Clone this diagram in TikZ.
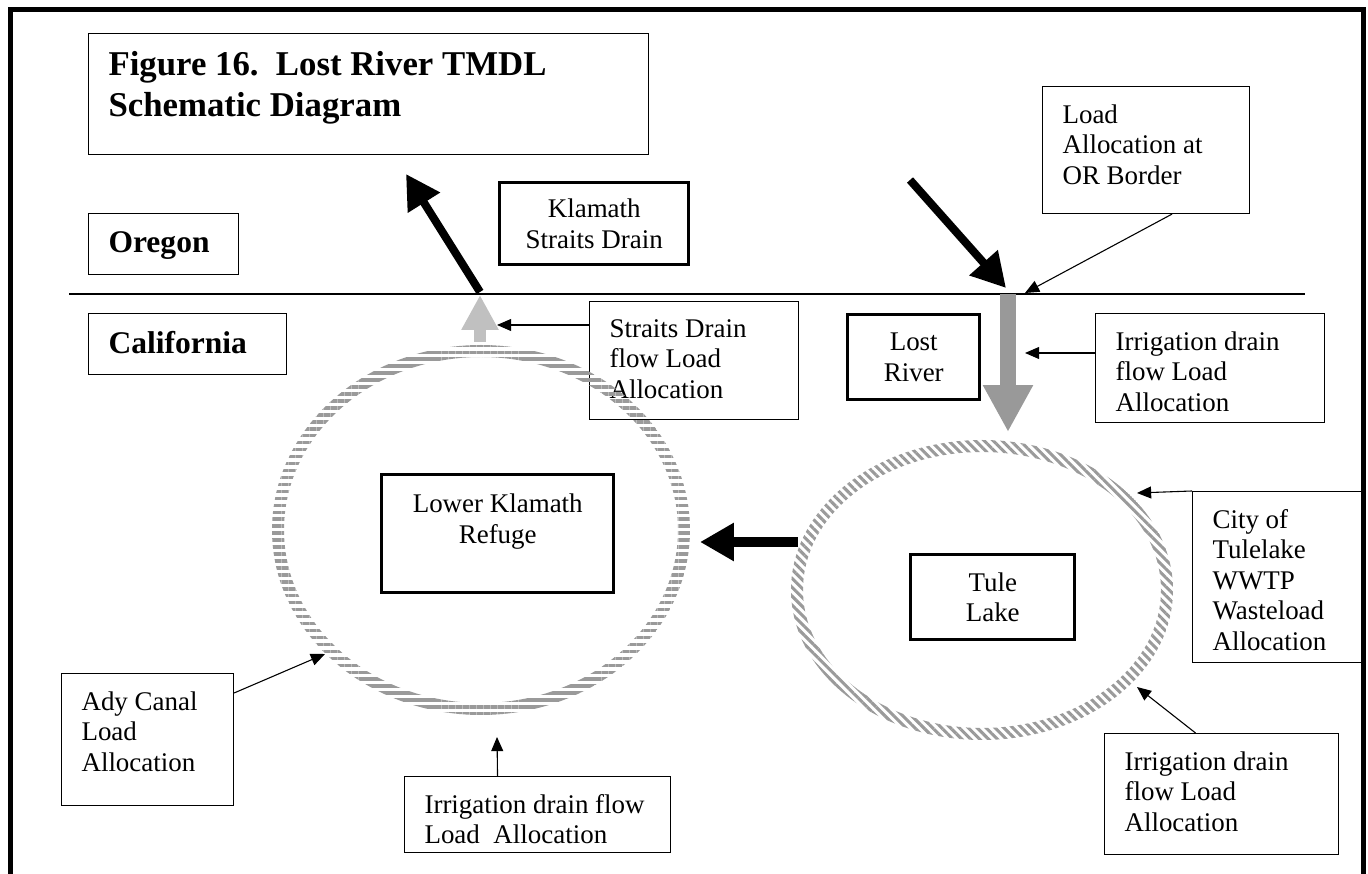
\documentclass[tikz,border=0pt]{standalone}
\usepackage{fontspec}
\setmainfont{Liberation Serif}
\usetikzlibrary{arrows.meta,patterns.meta}
\newlength\pxu
\setlength\pxu{0.46pt}
\newcommand{\tbox}[3]{\parbox[c][#2\pxu][t]{#1\pxu}{\raggedright #3}}
\definecolor{ringgray}{HTML}{9A9A9A}
\definecolor{drainarrow}{HTML}{C0C0C0}
\definecolor{riverarrow}{HTML}{999999}

\begin{document}
\begin{tikzpicture}[x=0.46pt, y=-0.46pt,
    every node/.style={font=\fontsize{12.4}{14}\selectfont},
    lbox/.style={draw, line width=0.5pt, anchor=north west, inner xsep=20\pxu, inner ysep=18\pxu},
    headbox/.style={lbox, font=\fontsize{16}{18.9}\selectfont\bfseries},
    statebox/.style={lbox, font=\fontsize{14.5}{17}\selectfont\bfseries},
    namebox/.style={draw, line width=1.6pt, align=center, anchor=north west, inner sep=0pt},
    pointer/.style={-{Triangle[length=6.5pt,width=5.5pt]}, line width=0.5pt},
    flow/.style={-{Triangle[length=15.6pt,width=16.6pt]}, line width=3.7pt}]
    \useasboundingbox (0,0) rectangle (1368,874);
    \draw[line width=2.3pt] (10,874) -- (10,10) -- (1363,10) -- (1363,874);
    \draw[line width=0.7pt] (69,294) -- (1305,294);

    \node[headbox] (title) at (88,33) {\tbox{520}{85}{Figure 16.\ \ Lost River TMDL\\Schematic Diagram}};
    \node[statebox] (oregon) at (88,213) {\tbox{110}{25}{Oregon}};
    \node[statebox] (california) at (88,313) {\tbox{158}{25}{California}};

    \node[namebox, minimum width=189\pxu, minimum height=82\pxu] (ksd) at (498,181) {Klamath\\Straits Drain};
    \node[namebox, minimum width=132\pxu, minimum height=85\pxu] (lostriver) at (846,313) {Lost\\River};
    \node[namebox, minimum width=232\pxu, minimum height=118\pxu] (lkr) at (380,473) {Lower Klamath\\Refuge\\\mbox{}};
    \node[namebox, minimum width=164\pxu, minimum height=85\pxu] (tule) at (909,553) {Tule\\Lake};

    \node[lbox] (ordrop) at (1042,86) {\tbox{167}{91}{Load\\Allocation at\\OR Border}};
    \node[lbox] (sdflow) at (589,301) {\tbox{169}{82}{Straits Drain\\flow Load\\Allocation}};
    \node[lbox] (lrflow) at (1095,313) {\tbox{189}{73}{Irrigation drain\\flow Load\\Allocation}};
    \node[lbox] (wwtp) at (1192,491) {\tbox{129}{135}{City of\\Tulelake\\WWTP\\Wasteload\\Allocation}};
    \node[lbox] (tlflow) at (1104,733) {\tbox{194}{85}{Irrigation drain\\flow Load\\Allocation}};
    \node[lbox] (ady) at (61,673) {\tbox{132}{96}{Ady Canal\\Load\\Allocation}};
    \node[lbox] (lkflow) at (404,776) {\tbox{226}{40}{Irrigation drain flow\\Load~ Allocation}};

    \coordinate (lkc) at (481,530);
    \coordinate (tlc) at (982,590);
    \fill[pattern={Lines[angle=0,distance=3.2pt,line width=1.6pt]}, pattern color=ringgray, even odd rule]
        (lkc) ellipse [x radius=209, y radius=185] (lkc) ellipse [x radius=197, y radius=173];
    \fill[pattern={Lines[angle=-45,distance=2.9pt,line width=1.4pt]}, pattern color=ringgray, even odd rule]
        (tlc) ellipse [x radius=191, y radius=150] (tlc) ellipse [x radius=179, y radius=138];

    \coordinate (ksdexit) at (480,292);
    \coordinate (ksdend) at (406,174);
    \coordinate (orstart) at (910,180);
    \coordinate (orend) at (1006,288);
    \coordinate (tlout) at (798,542);
    \coordinate (lkin) at (700,542);
    \coordinate (lktop) at (480,342);
    \coordinate (border) at (480,295);
    \coordinate (lrtop) at (1008,294);
    \coordinate (lrend) at (1008,432);
    \draw[flow] (ksdexit) -- (ksdend);
    \draw[flow] (orstart) -- (orend);
    \draw[flow, line width=4.6pt] (tlout) -- (lkin);
    \draw[-{Triangle[length=16pt,width=16pt]}, line width=5.5pt, drainarrow] (lktop) -- (border);
    \draw[-{Triangle[length=21.6pt,width=21.6pt]}, line width=7.4pt, riverarrow] (lrtop) -- (lrend);

    \coordinate (ormark) at (1025,293);
    \coordinate (sdmark) at (497,325);
    \coordinate (lrmark) at (1025,353);
    \coordinate (wwtpmark) at (1137,493);
    \coordinate (tlmark) at (1137,687);
    \coordinate (adymark) at (325,654);
    \coordinate (lkmark) at (497,737);
    \draw[pointer] ([xshift=26\pxu]ordrop.south) -- (ormark);
    \draw[pointer] ([yshift=-24\pxu]sdflow.north west) -- (sdmark);
    \draw[pointer] ([yshift=-40\pxu]lrflow.north west) -- (lrmark);
    \draw[pointer] (wwtp.north west) -- (wwtpmark);
    \draw[pointer] ([xshift=-26\pxu]tlflow.north) -- (tlmark);
    \draw[pointer] ([yshift=-20\pxu]ady.north east) -- (adymark);
    \draw[pointer] ([xshift=-40\pxu]lkflow.north) -- (lkmark);
\end{tikzpicture}
\end{document}
